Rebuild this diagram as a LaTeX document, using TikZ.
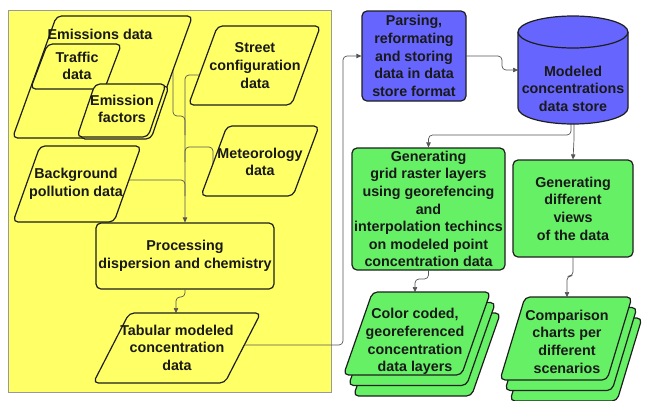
\documentclass[tikz,border=0pt]{standalone}
\usepackage{fontspec}
\setmainfont{Liberation Sans}
\usetikzlibrary{arrows.meta}
\definecolor{panelyellow}{RGB}{255,255,102}
\definecolor{procblue}{RGB}{102,102,255}
\definecolor{outgreen}{RGB}{102,240,102}
\definecolor{edgeink}{RGB}{30,30,30}
\definecolor{wireink}{RGB}{85,85,85}

\pgfdeclarelayer{panel}
\pgfdeclarelayer{wires}
\pgfsetlayers{panel,wires,main}

% parallelogram: style, centre x, centre y, half width, half height, slant
\newcommand\pgram[6]{%
  \draw[#1] ({#2-#4+#6},{#3-#5}) -- ({#2+#4+#6},{#3-#5})
    -- ({#2+#4-#6},{#3+#5}) -- ({#2-#4-#6},{#3+#5}) -- cycle;}

\begin{document}
\begin{tikzpicture}[x=1pt,y=-1pt,
  txt/.style={font=\fontsize{14.3}{17.6}\selectfont\bfseries, align=center,
    inner sep=0pt, text=black!90},
  shapeline/.style={draw=edgeink, line width=1.2pt, rounded corners=5pt},
  yshape/.style={shapeline, fill=panelyellow},
  bshape/.style={shapeline, fill=procblue},
  gshape/.style={shapeline, fill=outgreen},
  ybox/.style={txt, yshape, rectangle},
  bbox/.style={txt, bshape, rectangle},
  gbox/.style={txt, gshape, rectangle},
  wire/.style={draw=wireink, line width=0.7pt, rounded corners=4pt},
  arr/.style={wire, -{Triangle[length=5pt,width=4.5pt]}},
  ]
\useasboundingbox (0,0) rectangle (649,400);

% yellow panel of the dispersion model
\begin{pgfonlayer}{panel}
  \draw[draw=black!40, fill=panelyellow, line width=0.8pt] (8,10) rectangle (331,392);
\end{pgfonlayer}

% input data
\pgram{yshape}{102.5}{77}{68}{61}{22}
\node[txt] (emis) at (100,34) {Emissions data};
\pgram{yshape}{76}{66.5}{37}{22.5}{8.5}
\node[txt] (traffic) at (77,66) {Traffic\\data};
\pgram{yshape}{124.5}{112.5}{35.5}{26.5}{9}
\pgram{yshape}{121.5}{110.5}{35.5}{26.5}{9}
\node[txt] (factors) at (122,109) {Emission\\factors};
\pgram{yshape}{254.5}{65.5}{51.5}{39.5}{14.5}
\node[txt] (street) at (255,65.5) {Street\\configuration\\data};
\pgram{yshape}{260}{161}{46}{35}{13}
\node[txt] (meteo) at (260,162) {Meteorology\\data};
\pgram{yshape}{77}{184}{50.5}{38}{13.5}
\node[txt] (backgr) at (76,184) {Background\\pollution data};

% model run and its output table
\node[ybox, minimum width=178pt, minimum height=66pt] (proc) at (185,256)
  {Processing\\dispersion and chemistry};
\pgram{yshape}{177}{348}{65.75}{35}{18}
\node[txt] (tab) at (177,347.5) {Tabular modeled\\concentration\\data};
\coordinate (tabTop) at (176,313);

% storage
\node[bbox, minimum width=104pt, minimum height=90pt] (parse) at (414,56)
  {Parsing,\\reformating\\and storing\\data in data\\store format};
\fill[procblue] (518,32) -- (518,108) .. controls (518,116.8) and (542.6,124) .. (573,124)
  .. controls (603.4,124) and (628,116.8) .. (628,108) -- (628,32) -- cycle;
\draw[edgeink, line width=1.2pt] (518,32) -- (518,108) .. controls (518,116.8) and (542.6,124) .. (573,124)
  .. controls (603.4,124) and (628,116.8) .. (628,108) -- (628,32);
\draw[edgeink, fill=procblue, line width=1.2pt] (573,32) ellipse [x radius=55pt, y radius=16pt];
\node[txt] (store) at (573,88.5) {Modeled\\concentrations\\data store};
\coordinate (storeW) at (518,70);

% products
\node[gbox, minimum width=153pt, minimum height=122pt] (grid) at (428.5,209)
  {Generating\\grid raster layers\\using georefencing\\and\\interpolation techincs\\on modeled point\\concentration data};
\node[gbox, minimum width=120pt, minimum height=97pt] (views) at (573,208.5)
  {Generating\\different\\views\\of the data};

\pgram{gshape}{427}{354.5}{59}{41.5}{14.5}
\pgram{gshape}{422}{344}{59}{41.5}{14.5}
\pgram{gshape}{417}{333.5}{59}{41.5}{14.5}
\node[txt] (layers) at (415,341.5) {Color coded,\\georeferenced\\concentration\\data layers};
\coordinate (layersTop) at (415,292);

\pgram{gshape}{576}{359.5}{53.5}{41.5}{12.5}
\pgram{gshape}{571}{349}{53.5}{41.5}{12.5}
\pgram{gshape}{566}{338.5}{53.5}{41.5}{12.5}
\node[txt] (charts) at (567,341.5) {Comparison\\charts per\\different\\scenarios};
\coordinate (chartsTop) at (567,297);

% connectors
\begin{pgfonlayer}{wires}
  \draw[arr] (205,75) -- (185,75) -- (proc.north);
  \draw[wire] (173,55) -- (173,116) -- (185,116) -- (185,135);
  \draw[wire] (213,172) -- (213,147) -- (185,147) -- (185,162);
  \draw[wire] (120,180) -- (185,180) -- (185,196);
  \draw[arr] (proc.south) -- (185,297) -- (176,297) -- (tabTop);
  \draw[arr] (235,345) -- (343,345) -- (343,56) -- (parse.west);
  \draw[arr] (parse.east) -- (502,56) -- (502,70) -- (storeW);
  \draw[arr] (571,118) -- (571,135) -| (grid.north);
  \draw[arr] (574,118) -- (574,140) -- (views.north);
  \draw[arr] (grid.south) -- (428.5,279) -- (415,279) -- (layersTop);
  \draw[arr] (views.south) -- (573,276) -- (567,276) -- (chartsTop);
\end{pgfonlayer}
\end{tikzpicture}
\end{document}
